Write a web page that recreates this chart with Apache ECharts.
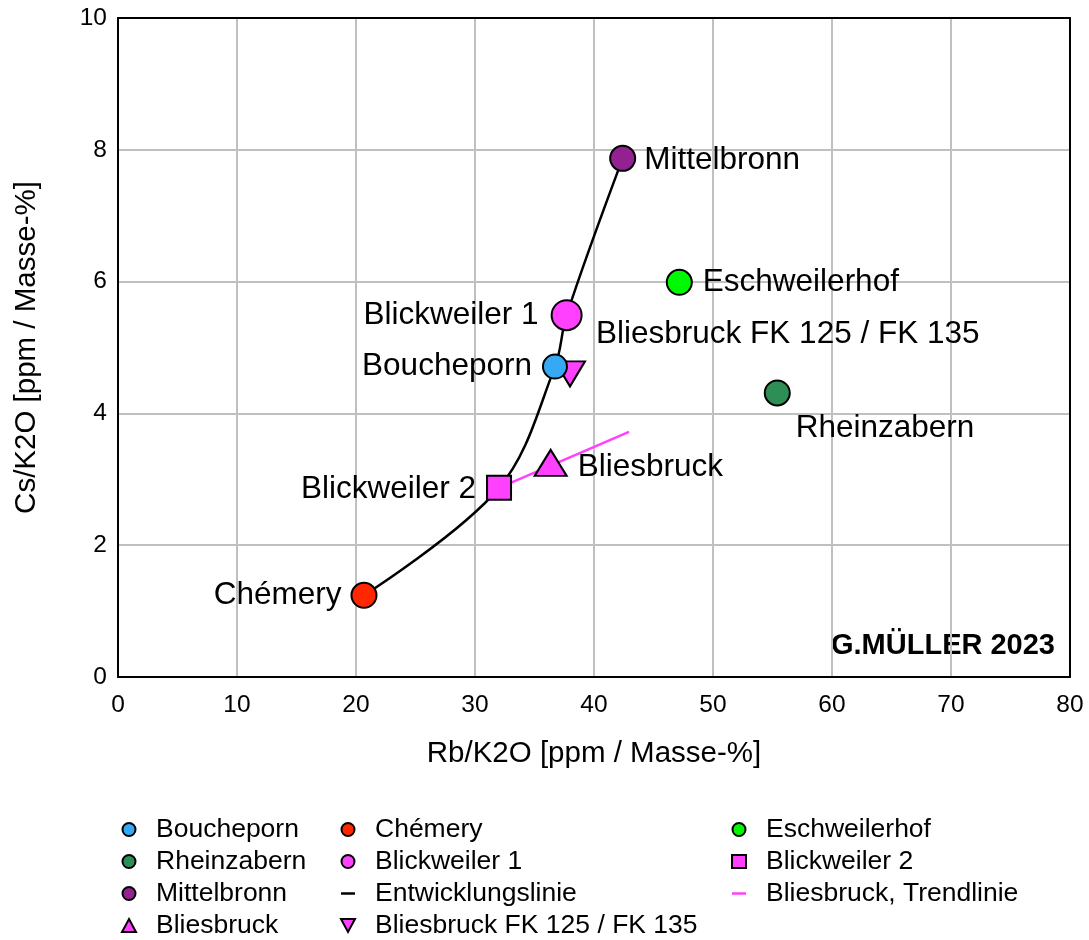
<!DOCTYPE html>
<html><head><meta charset="utf-8">
<script src="https://cdn.jsdelivr.net/npm/echarts@6/dist/echarts.min.js"></script>
<style>html,body{margin:0;padding:0;background:#fff}#c{width:1089px;height:940px}</style>
</head><body><div id="c"></div>
<script>
// Sample points [Rb/K2O, Cs/K2O]
const boucheporn = [[36.72, 4.71]];
const chemery = [[20.67, 1.24]];
const eschweilerhof = [[47.17, 5.99]];
const rheinzabern = [[55.40, 4.31]];
const blickweiler1 = [[37.70, 5.49]];
const blickweiler2 = [[32.02, 2.87]];
const mittelbronn = [[42.41, 7.87]];
const bliesbruck = [[36.36, 3.25]];
const bliesbruckFK = [[37.98, 4.60]];
// Development line through the sites
const entwicklungslinie = [[20.67, 1.24], [32.02, 2.87], [36.72, 4.71], [37.70, 5.49], [42.41, 7.87]];
// Bliesbruck trend line
const trendlinie = [[32.02, 2.87], [42.94, 3.72]];
const xTicks = [0, 10, 20, 30, 40, 50, 60, 70, 80];
const yTicks = [0, 2, 4, 6, 8, 10];

const FONT = 'Liberation Sans, Arial, Helvetica, sans-serif';
const lblBase = {show: true, color: '#000', fontFamily: FONT, fontSize: 31.5, formatter: '{a}'};
const LINE_ICON = 'path://M0,0 L14,0 L14,2.5 L0,2.5 Z';
const DOWN_TRI_ICON = 'path://M0,0 L12,0 L6,11 Z';

function pt(name, data, color, symbol, size, label, extra) {
  return Object.assign({
    name, type: 'scatter', data, symbol, symbolSize: size, z: 5,
    itemStyle: {color, borderColor: '#000', borderWidth: 2, opacity: 1},
    label: Object.assign({}, lblBase, label),
    emphasis: {disabled: true}
  }, extra || {});
}

const chart = echarts.init(document.getElementById('c'), null, {renderer: 'canvas'});
const legendCommon = {
  orient: 'vertical', top: 816, height: 124, padding: 0, itemWidth: 14, itemHeight: 13, itemGap: 5,
  selectedMode: false,
  textStyle: {color: '#000', fontFamily: FONT, fontSize: 26.5, lineHeight: 26, padding: [0, 0, 0, 15]}
};
const axisBase = {
  type: 'value',
  axisTick: {show: false},
  axisLine: {show: true, onZero: false, lineStyle: {color: '#000', width: 2}}
};
chart.setOption({
  animation: false,
  backgroundColor: '#fff',
  grid: {left: 118, right: 19, top: 18, bottom: 263, show: false, containLabel: false},
  xAxis: [Object.assign({}, axisBase, {
    min: xTicks[0], max: xTicks[xTicks.length - 1], interval: 10, position: 'bottom',
    name: 'Rb/K2O [ppm / Masse-%]', nameLocation: 'middle', nameGap: 62,
    nameTextStyle: {color: '#000', fontFamily: FONT, fontSize: 29.5},
    axisLabel: {color: '#000', fontFamily: FONT, fontSize: 24.5, margin: 16},
    splitLine: {show: true, showMinLine: false, showMaxLine: false, lineStyle: {color: '#c0c0c0', width: 2}}
  }), Object.assign({}, axisBase, {
    min: xTicks[0], max: xTicks[xTicks.length - 1], interval: 10, position: 'top',
    axisLabel: {show: false}, splitLine: {show: false}
  })],
  yAxis: [Object.assign({}, axisBase, {
    min: yTicks[0], max: yTicks[yTicks.length - 1], interval: 2, position: 'left',
    name: 'Cs/K2O [ppm / Masse-%]', nameLocation: 'middle', nameGap: 76,
    nameTextStyle: {color: '#000', fontFamily: FONT, fontSize: 29.5},
    axisLabel: {color: '#000', fontFamily: FONT, fontSize: 24.5, margin: 11},
    splitLine: {show: true, showMinLine: false, showMaxLine: false, lineStyle: {color: '#c0c0c0', width: 2}}
  }), Object.assign({}, axisBase, {
    min: yTicks[0], max: yTicks[yTicks.length - 1], interval: 2, position: 'right',
    axisLabel: {show: false}, splitLine: {show: false}
  })],
  legend: [
    Object.assign({left: 121, data: ['Boucheporn', 'Rheinzabern', 'Mittelbronn', 'Bliesbruck']}, legendCommon),
    Object.assign({left: 340, data: ['Chémery', 'Blickweiler 1', {name: 'Entwicklungslinie', icon: LINE_ICON}, {name: 'Bliesbruck FK 125 / FK 135', icon: DOWN_TRI_ICON}]}, legendCommon),
    Object.assign({left: 731, data: ['Eschweilerhof', 'Blickweiler 2', {name: 'Bliesbruck, Trendlinie', icon: LINE_ICON}]}, legendCommon)
  ],
  graphic: [{
    type: 'text', right: 34, top: 631,
    style: {text: 'G.MÜLLER 2023', fill: '#000', font: 'bold 29px ' + FONT}
  }],
  series: [
    {name: 'Entwicklungslinie', type: 'line', data: entwicklungslinie, smooth: 0.35, symbol: 'none', z: 2,
     lineStyle: {color: '#000', width: 2.5}, itemStyle: {color: '#000'}, emphasis: {disabled: true}},
    {name: 'Bliesbruck, Trendlinie', type: 'line', data: trendlinie, symbol: 'none', z: 2,
     lineStyle: {color: '#ff40ff', width: 2.5}, itemStyle: {color: '#ff40ff'}, emphasis: {disabled: true}},
    pt('Boucheporn', boucheporn, '#37a8f3', 'circle', 24, {position: 'left', distance: 10}),
    pt('Chémery', chemery, '#ff2600', 'circle', 25, {position: 'left', distance: 9}),
    pt('Eschweilerhof', eschweilerhof, '#00f900', 'circle', 25, {position: 'right', distance: 10}),
    pt('Rheinzabern', rheinzabern, '#2e8f56', 'circle', 25, {position: 'right', distance: 5, offset: [0, 35]}),
    pt('Blickweiler 1', blickweiler1, '#ff40ff', 'circle', 30, {position: 'left', distance: 12}),
    pt('Blickweiler 2', blickweiler2, '#ff40ff', 'rect', 24, {position: 'left', distance: 10, offset: [0, 1]}),
    pt('Mittelbronn', mittelbronn, '#942192', 'circle', 25, {position: 'right', distance: 8, offset: [0, 2]}),
    pt('Bliesbruck', bliesbruck, '#ff40ff', 'triangle', [32, 26], {position: 'right', distance: 10, offset: [0, 4]}),
    pt('Bliesbruck FK 125 / FK 135', bliesbruckFK, '#ff40ff', 'triangle', [30, 25],
       {position: 'right', distance: 10, offset: [0, -40]}, {symbolRotate: 180, z: 4})
  ]
});
</script></body></html>
